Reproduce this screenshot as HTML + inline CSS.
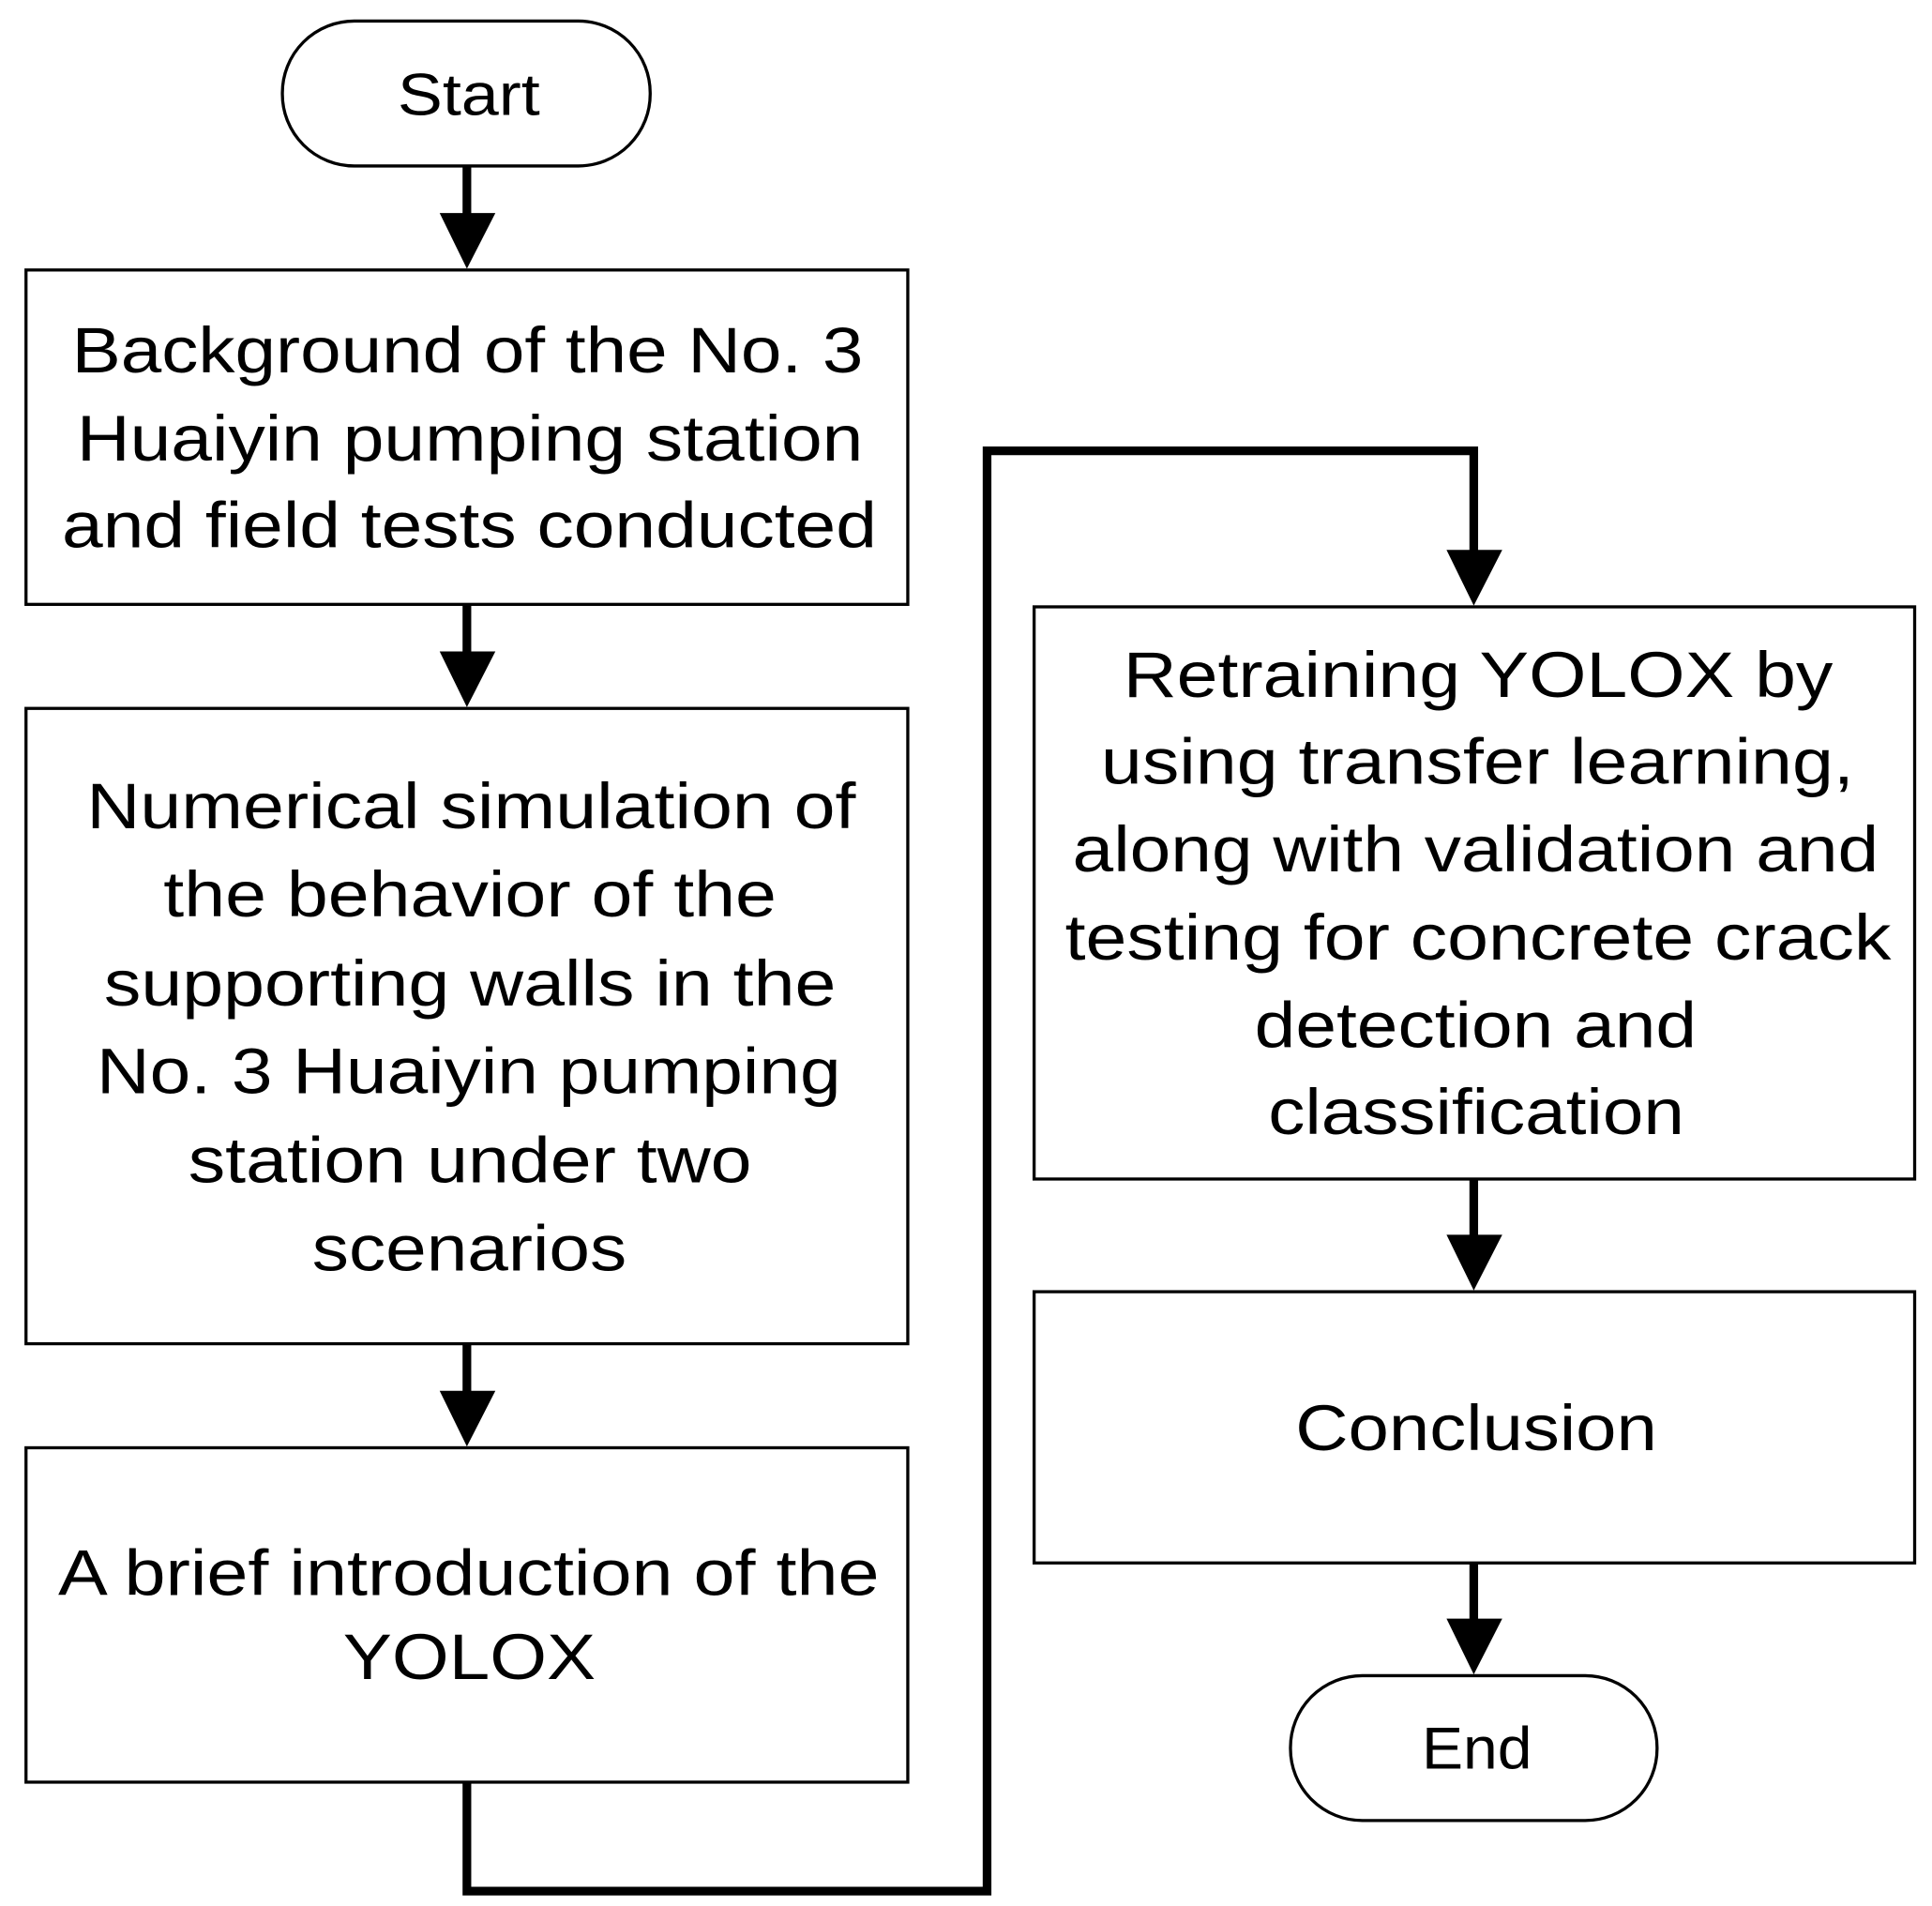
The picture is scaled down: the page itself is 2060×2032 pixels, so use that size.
<!DOCTYPE html>
<html><head><meta charset="utf-8"><style>html,body{margin:0;padding:0;background:#fff}svg{display:block}</style></head>
<body>
<svg width="2060" height="2032" viewBox="0 0 1560 1539" preserveAspectRatio="none" xmlns="http://www.w3.org/2000/svg">
<rect width="1560" height="1539" fill="#fff"/>
<g fill="none" stroke="#000" stroke-width="2.5">
<rect x="228" y="17" width="297" height="117" rx="58"/>
<rect x="21" y="218" width="712" height="270"/>
<rect x="21" y="572" width="712" height="513"/>
<rect x="21" y="1169" width="712" height="270"/>
<rect x="835" y="490" width="711" height="462"/>
<rect x="835" y="1043" width="711" height="219"/>
<rect x="1042" y="1353" width="296" height="117" rx="58"/>
</g>
<g stroke="#000" stroke-width="7" fill="none" stroke-linejoin="miter">
<line x1="377" y1="134" x2="377" y2="178"/>
<line x1="377" y1="488" x2="377" y2="532"/>
<line x1="377" y1="1085" x2="377" y2="1129"/>
<polyline points="377,1439 377,1527 797,1527 797,364 1190,364 1190,450"/>
<line x1="1190" y1="952" x2="1190" y2="1003"/>
<line x1="1190" y1="1262" x2="1190" y2="1313"/>
</g>
<g fill="#000">
<polygon points="355,172 400,172 377,217"/>
<polygon points="355,526 400,526 377,571"/>
<polygon points="355,1123 400,1123 377,1168"/>
<polygon points="1168,444 1213,444 1190,489"/>
<polygon points="1168,997 1213,997 1190,1042"/>
<polygon points="1168,1307 1213,1307 1190,1352"/>
</g>
<g font-family="Liberation Sans, sans-serif" font-size="52" fill="#000" dominant-baseline="central" lengthAdjust="spacingAndGlyphs">
<text x="321" y="77" textLength="115" lengthAdjust="spacingAndGlyphs" font-size="48">Start</text>
<text x="1148" y="1412" textLength="89" lengthAdjust="spacingAndGlyphs" font-size="48">End</text>
<text x="58" y="283" textLength="639" lengthAdjust="spacingAndGlyphs">Background of the No. 3</text>
<text x="62" y="354" textLength="635" lengthAdjust="spacingAndGlyphs">Huaiyin pumping station</text>
<text x="50" y="424" textLength="658" lengthAdjust="spacingAndGlyphs">and field tests conducted</text>
<text x="70" y="651" textLength="621" lengthAdjust="spacingAndGlyphs">Numerical simulation of</text>
<text x="132" y="722" textLength="495" lengthAdjust="spacingAndGlyphs">the behavior of the</text>
<text x="84" y="794" textLength="591" lengthAdjust="spacingAndGlyphs">supporting walls in the</text>
<text x="78" y="865" textLength="601" lengthAdjust="spacingAndGlyphs">No. 3 Huaiyin pumping</text>
<text x="152" y="937" textLength="455" lengthAdjust="spacingAndGlyphs">station under two</text>
<text x="252" y="1008" textLength="254" lengthAdjust="spacingAndGlyphs">scenarios</text>
<text x="47" y="1270" textLength="663" lengthAdjust="spacingAndGlyphs">A brief introduction of the</text>
<text x="277" y="1338" textLength="204" lengthAdjust="spacingAndGlyphs">YOLOX</text>
<text x="907" y="545" textLength="573" lengthAdjust="spacingAndGlyphs">Retraining YOLOX by</text>
<text x="889" y="615" textLength="608" lengthAdjust="spacingAndGlyphs">using transfer learning,</text>
<text x="866" y="686" textLength="651" lengthAdjust="spacingAndGlyphs">along with validation and</text>
<text x="860" y="757" textLength="667" lengthAdjust="spacingAndGlyphs">testing for concrete crack</text>
<text x="1013" y="828" textLength="357" lengthAdjust="spacingAndGlyphs">detection and</text>
<text x="1024" y="898" textLength="336" lengthAdjust="spacingAndGlyphs">classification</text>
<text x="1046" y="1153" textLength="292" lengthAdjust="spacingAndGlyphs">Conclusion</text>
</g>
</svg>
</body></html>
